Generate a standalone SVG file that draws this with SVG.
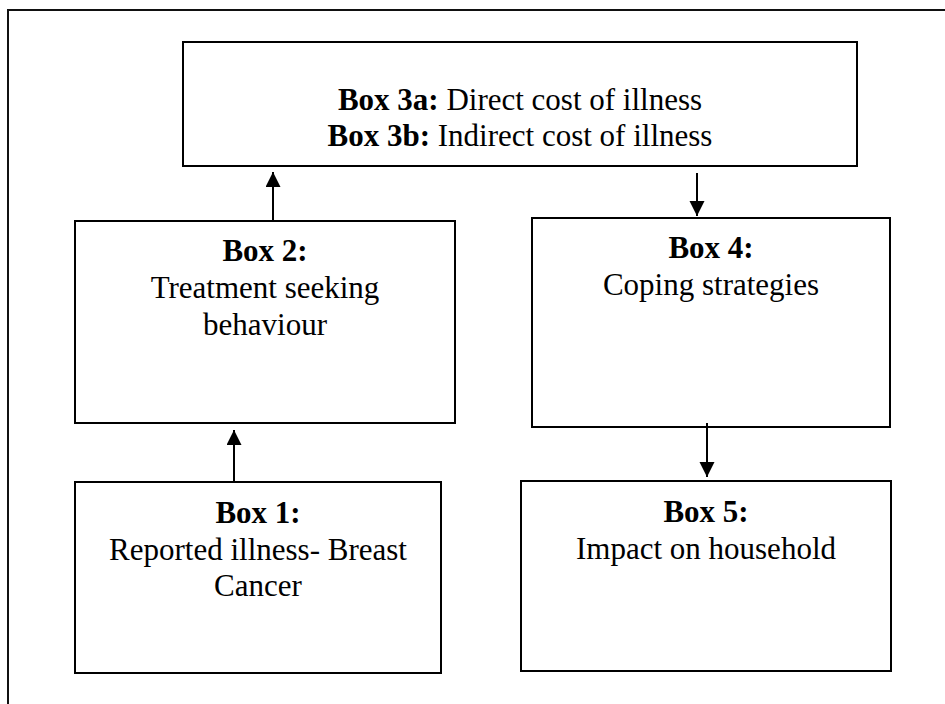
<svg xmlns="http://www.w3.org/2000/svg" width="945" height="704" viewBox="0 0 945 704">
<defs>
<style>
.box{fill:#fff;stroke:#000;stroke-width:2}
.frame{fill:none;stroke:#111;stroke-width:2}
.t{font-family:"Liberation Serif","Times New Roman",serif;font-size:31px;fill:#000;text-anchor:middle}
.b{font-weight:bold}
.c{stroke:#000;stroke-width:2;fill:none}
</style>
<marker id="ah" markerWidth="16" markerHeight="16" refX="15" refY="7.5" orient="auto" markerUnits="userSpaceOnUse">
<path d="M0,0 L15,7.5 L0,15 Z" fill="#000"/>
</marker>
</defs>
<rect width="945" height="704" fill="#fff"/>
<path class="frame" d="M8,704 V10 H945"/>
<g id="box3">
<rect class="box" x="183" y="42" width="674" height="124"/>
<text class="t" x="520" y="110"><tspan class="b">Box 3a:</tspan> Direct cost of illness</text>
<text class="t" x="520" y="146"><tspan class="b">Box 3b:</tspan> Indirect cost of illness</text>
</g>
<g id="box2">
<rect class="box" x="75" y="221" width="380" height="202"/>
<text class="t" x="265" y="261"><tspan class="b">Box 2:</tspan></text>
<text class="t" x="265" y="298">Treatment seeking</text>
<text class="t" x="265" y="335">behaviour</text>
</g>
<g id="box1">
<rect class="box" x="75" y="482" width="366" height="191"/>
<text class="t" x="258" y="523"><tspan class="b">Box 1:</tspan></text>
<text class="t" x="258" y="560">Reported illness- Breast</text>
<text class="t" x="258" y="596">Cancer</text>
</g>
<g id="box4">
<rect class="box" x="532" y="218" width="358" height="209"/>
<text class="t" x="711" y="258"><tspan class="b">Box 4:</tspan></text>
<text class="t" x="711" y="295">Coping strategies</text>
</g>
<g id="box5">
<rect class="box" x="521" y="481" width="370" height="190"/>
<text class="t" x="706" y="522"><tspan class="b">Box 5:</tspan></text>
<text class="t" x="706" y="559">Impact on household</text>
</g>
<g id="connectors">
<line class="c" x1="273" y1="221" x2="273" y2="172" marker-end="url(#ah)"/>
<line class="c" x1="697" y1="173" x2="697" y2="216" marker-end="url(#ah)"/>
<line class="c" x1="234" y1="481" x2="234" y2="430" marker-end="url(#ah)"/>
<line class="c" x1="707" y1="423" x2="707" y2="477" marker-end="url(#ah)"/>
</g>
</svg>
